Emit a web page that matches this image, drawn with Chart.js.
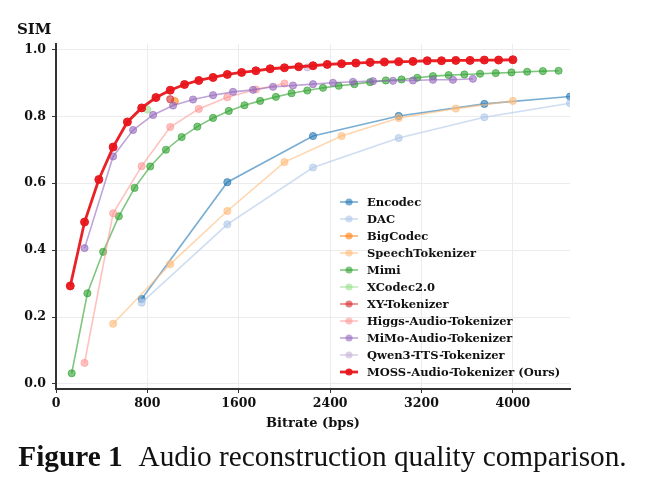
<!DOCTYPE html>
<html>
<head>
<meta charset="utf-8">
<script src="https://cdn.jsdelivr.net/npm/chart.js@4.4.1/dist/chart.umd.min.js"></script>
<style>
  html, body { margin: 0; padding: 0; background: #fff; }
  #wrap { position: relative; width: 645px; height: 486px; }
  #chart { position: absolute; left: 0; top: 0; }
  #caption {
    position: absolute; left: 0; width: 645px; top: 440px;
    text-align: center; font-family: 'Liberation Serif', serif;
    font-size: 29.3px; line-height: 32px; color: #111; white-space: nowrap;
  }
  #caption b { margin-right: 10px; }
</style>
</head>
<body>
<div id="wrap">
  <canvas id="chart" width="645" height="486"></canvas>
  <div id="caption"><b>Figure 1</b> Audio reconstruction quality comparison.</div>
</div>
<script>
// values (bitrate in bps, SIM)
var xTicks = [0, 800, 1600, 2400, 3200, 4000];
var yTicks = [0, 0.2, 0.4, 0.6, 0.8, 1.0];

var encodecBps = [750, 1500, 2250, 3000, 3750, 4500];
var encodecSim = [0.254, 0.603, 0.741, 0.801, 0.837, 0.859];

var dacBps = [750, 1500, 2250, 3000, 3750, 4500];
var dacSim = [0.243, 0.477, 0.647, 0.735, 0.797, 0.839];

var bigcodecBps = [1040];
var bigcodecSim = [0.845];

var speechTokBps = [500, 1000, 1500, 2000, 2500, 3000, 3500, 4000];
var speechTokSim = [0.180, 0.358, 0.517, 0.663, 0.741, 0.795, 0.823, 0.846];

var mimiBps = [137.5, 275, 412.5, 550, 687.5, 825, 962.5, 1100, 1237.5, 1375, 1512.5, 1650,
  1787.5, 1925, 2062.5, 2200, 2337.5, 2475, 2612.5, 2750, 2887.5, 3025, 3162.5, 3300,
  3437.5, 3575, 3712.5, 3850, 3987.5, 4125, 4262.5, 4400];
var mimiSim = [0.032, 0.271, 0.395, 0.501, 0.586, 0.650, 0.700, 0.738, 0.769, 0.795, 0.816, 0.833,
  0.846, 0.858, 0.869, 0.877, 0.885, 0.891, 0.896, 0.902, 0.907, 0.910, 0.915, 0.920,
  0.923, 0.925, 0.927, 0.929, 0.931, 0.933, 0.935, 0.936];

var xcodec2Bps = [800];
var xcodec2Sim = [0.820];

var xyTokBps = [1000];
var xyTokSim = [0.851];

var higgsBps = [250, 500, 750, 1000, 1250, 1500, 1750, 2000];
var higgsSim = [0.063, 0.510, 0.651, 0.768, 0.822, 0.857, 0.880, 0.898];

var mimoBps = [250, 500, 675, 850, 1025, 1200, 1375, 1550, 1725, 1900, 2075, 2250, 2425, 2600,
  2775, 2950, 3125, 3300, 3475, 3650];
var mimoSim = [0.406, 0.680, 0.759, 0.804, 0.832, 0.850, 0.863, 0.873, 0.879, 0.888, 0.892, 0.896,
  0.900, 0.903, 0.905, 0.906, 0.907, 0.909, 0.909, 0.912];

var qwenBps = [2200];
var qwenSim = [0.946];

var mossBps = [125, 250, 375, 500, 625, 750, 875, 1000, 1125, 1250, 1375, 1500, 1625, 1750, 1875,
  2000, 2125, 2250, 2375, 2500, 2625, 2750, 2875, 3000, 3125, 3250, 3375, 3500, 3625, 3750, 3875, 4000];
var mossSim = [0.293, 0.484, 0.611, 0.708, 0.783, 0.825, 0.856, 0.878, 0.895, 0.907, 0.916, 0.925,
  0.931, 0.936, 0.942, 0.945, 0.948, 0.951, 0.955, 0.957, 0.959, 0.961, 0.962, 0.963, 0.964, 0.966,
  0.966, 0.967, 0.967, 0.968, 0.968, 0.969];

var seriesNames = ['Encodec', 'DAC', 'BigCodec', 'SpeechTokenizer', 'Mimi', 'XCodec2.0',
  'XY-Tokenizer', 'Higgs-Audio-Tokenizer', 'MiMo-Audio-Tokenizer', 'Qwen3-TTS-Tokenizer',
  'MOSS-Audio-Tokenizer (Ours)'];
var seriesBps = [encodecBps, dacBps, bigcodecBps, speechTokBps, mimiBps, xcodec2Bps, xyTokBps,
  higgsBps, mimoBps, qwenBps, mossBps];
var seriesSim = [encodecSim, dacSim, bigcodecSim, speechTokSim, mimiSim, xcodec2Sim, xyTokSim,
  higgsSim, mimoSim, qwenSim, mossSim];
var seriesColors = ['31,119,180', '174,199,232', '255,127,14', '255,187,120', '44,160,44',
  '152,223,138', '214,39,40', '255,152,150', '148,103,189', '197,176,213', '232,22,28'];

var FONT = "'DejaVu Serif', serif";

function rgba(c, a) { return 'rgba(' + c + ',' + a + ')'; }

var datasets = seriesNames.map(function (name, i) {
  var ours = i === seriesNames.length - 1;
  var a = ours ? 0.95 : 0.6;
  return {
    label: name,
    data: seriesBps[i].map(function (b, j) { return { x: b, y: seriesSim[i][j] }; }),
    borderColor: rgba(seriesColors[i], a),
    backgroundColor: rgba(seriesColors[i], a),
    pointBackgroundColor: rgba(seriesColors[i], a),
    pointBorderColor: rgba(seriesColors[i], a),
    borderWidth: ours ? 2.8 : 1.6,
    pointRadius: ours ? 4 : 3.6,
    pointBorderWidth: 1,
    tension: 0,
    order: seriesNames.length - i
  };
});

// legend inside the plot + the "SIM" label
var extras = {
  id: 'extras',
  afterDraw: function (chart) {
    var ctx = chart.ctx;
    ctx.save();
    ctx.font = 'bold 15px ' + FONT;
    ctx.fillStyle = '#111';
    ctx.textBaseline = 'middle';
    ctx.textAlign = 'left';
    ctx.fillText('SIM', 17, 30);

    ctx.font = 'bold 11.5px ' + FONT;
    chart.data.datasets.forEach(function (ds, i) {
      var y = 202 + i * 17;
      ctx.strokeStyle = ds.borderColor;
      ctx.lineWidth = ds.borderWidth;
      ctx.beginPath();
      ctx.moveTo(340, y);
      ctx.lineTo(358, y);
      ctx.stroke();
      ctx.fillStyle = ds.pointBackgroundColor;
      ctx.beginPath();
      ctx.arc(349, y, 3.6, 0, Math.PI * 2);
      ctx.fill();
      ctx.fillStyle = '#111';
      ctx.fillText(ds.label, 367, y + 1);
    });
    ctx.restore();
  }
};

var ctx = document.getElementById('chart').getContext('2d');
var chart = new Chart(ctx, {
  type: 'line',
  data: { datasets: datasets },
  plugins: [extras],
  options: {
    responsive: false,
    animation: false,
    layout: { padding: { left: 0, top: 44, right: 75, bottom: 52 } },
    plugins: { legend: { display: false }, tooltip: { enabled: false } },
    scales: {
      x: {
        type: 'linear',
        min: 0,
        max: 4500,
        afterFit: function (s) { s.height = 45; },
        afterBuildTicks: function (s) { s.ticks = xTicks.map(function (v) { return { value: v }; }); },
        ticks: {
          color: '#111', padding: 3, font: { family: FONT, size: 12.5, weight: 'bold' },
          callback: function (v) { return String(v); }
        },
        grid: { color: '#ececec', lineWidth: 1, tickLength: 4, tickColor: '#333' },
        border: { color: '#333', width: 2 },
        title: {
          display: true, text: 'Bitrate (bps)', color: '#111',
          font: { family: FONT, size: 13, weight: 'bold' }, padding: { top: 0, bottom: 3 }
        }
      },
      y: {
        min: -0.015,
        max: 1.016,
        afterFit: function (s) { s.width = 56; },
        afterBuildTicks: function (s) { s.ticks = yTicks.map(function (v) { return { value: v }; }); },
        ticks: {
          color: '#111', padding: 6, font: { family: FONT, size: 12.5, weight: 'bold' },
          callback: function (v) { return v.toFixed(1); }
        },
        grid: { color: '#ececec', lineWidth: 1, tickLength: 4, tickColor: '#333' },
        border: { color: '#333', width: 2 }
      }
    }
  }
});
</script>
</body>
</html>
